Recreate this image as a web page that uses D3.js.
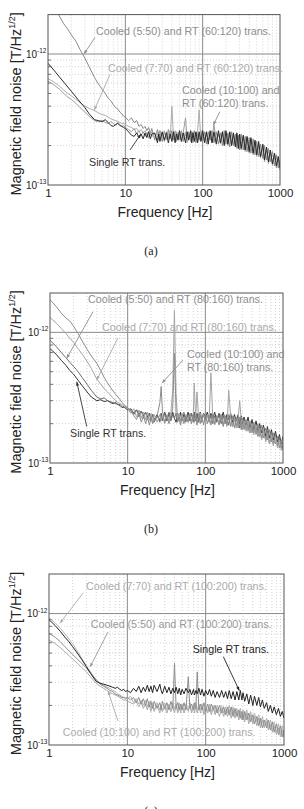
<!DOCTYPE html>
<html>
<head>
<meta charset="utf-8">
<script src="https://cdn.jsdelivr.net/npm/d3@7"></script>
<style>
body { margin: 0; background: #fff; }
svg { display: block; font-family: "Liberation Sans", Arial, sans-serif; }
</style>
</head>
<body>
<svg id="chart" width="304" height="809"></svg>
<script>
// frequency points [Hz], shared by every spectrum
var freq = [1, 1.2, 1.4, 1.6, 1.8, 2, 2.3, 2.6, 3, 3.4, 4, 4.5, 5, 5.5, 6,
  6.5, 7, 7.5, 8, 8.5, 9, 9.5, 10, 11, 12, 13, 14, 15, 16, 17,
  18, 19, 20, 21, 22, 24, 26, 27, 28, 30, 32, 34, 36, 38, 40,
  42, 44, 46, 48, 50, 53, 56, 60, 63, 66, 70, 72, 75, 78, 82,
  86, 90, 95, 100, 106, 112, 118, 125, 132, 140, 150, 160, 170, 180, 190,
  200, 212, 224, 237, 250, 265, 277, 290, 300, 315, 335, 355, 375, 400, 420,
  450, 475, 500, 530, 560, 600, 630, 670, 710, 750, 800, 850, 900, 950, 1000];

// noise values in units of 1e-13 T/Hz^1/2
// (a)
var a550 = [30, 25, 19.5, 17, 15.5, 14, 12.5, 10.8, 9.3, 8, 6.6, 5.9, 5.4, 5.0, 4.6,
  4.4, 4.1, 3.9, 3.8, 3.6, 3.5, 3.35, 3.3, 3.1, 3.25, 3.0, 3.1, 2.8, 2.9, 2.7,
  2.8, 2.6, 2.75, 2.5, 2.7, 2.2, 2.65, 2.3, 2.6, 2.15, 2.55, 2.25, 2.65, 2.3, 2.6,
  2.2, 2.55, 2.15, 2.5, 2.25, 2.6, 2.15, 2.5, 2.2, 2.55, 2.15, 2.5, 2.25, 2.6, 2.1,
  2.5, 2.2, 2.6, 2.15, 2.55, 2.05, 2.55, 2.2, 2.6, 2.1, 2.55, 2.05, 2.5, 2.0, 2.6,
  2.05, 2.5, 1.95, 2.55, 2.0, 2.45, 1.9, 2.4, 1.85, 2.45, 1.85, 2.35, 1.8, 2.3, 1.75,
  2.25, 1.7, 2.15, 1.65, 2.05, 1.6, 2.0, 1.55, 1.9, 1.5, 1.8, 1.4, 1.7, 1.35, 1.55];
var a770 = [6.5, 6.1, 5.7, 5.3, 5.0, 4.8, 4.5, 4.25, 4.0, 3.85, 3.7, 3.55, 3.45, 3.4, 3.3,
  3.2, 3.15, 3.1, 3.05, 3.0, 2.95, 2.95, 2.9, 2.8, 2.75, 2.65, 2.7, 2.55, 2.65, 2.5,
  2.6, 2.45, 2.55, 2.4, 2.55, 2.3, 2.55, 2.2, 2.6, 2.3, 2.6, 2.2, 2.5, 2.25, 4.0,
  2.3, 2.6, 2.2, 2.5, 2.2, 2.45, 2.25, 2.55, 2.1, 2.45, 2.3, 2.55, 2.1, 2.45, 2.3,
  2.55, 3.75, 2.2, 2.5, 2.2, 2.5, 2.15, 2.55, 2.1, 2.45, 2.15, 2.5, 2.05, 2.55, 2.1,
  2.45, 2.0, 2.5, 2.05, 2.4, 2.0, 2.4, 1.95, 2.35, 1.85, 2.3, 1.8, 2.25, 1.75, 2.2,
  1.7, 2.1, 1.65, 2.0, 1.6, 1.95, 1.5, 1.85, 1.45, 1.75, 1.4, 1.65, 1.35, 1.55, 1.3];
var a10100 = [6.2, 5.8, 5.4, 5.0, 4.7, 4.5, 4.2, 3.9, 3.6, 3.35, 3.1, 3.05, 3.1, 3.0, 2.95,
  3.05, 2.95, 2.85, 3.0, 2.9, 2.8, 2.85, 2.75, 2.65, 2.55, 2.7, 2.45, 2.6, 2.4, 2.55,
  2.35, 2.5, 2.3, 2.5, 2.35, 2.45, 2.2, 2.55, 2.25, 2.5, 2.15, 2.55, 2.25, 2.6, 2.3,
  2.5, 2.2, 2.55, 2.25, 2.45, 2.2, 2.5, 3.25, 2.25, 2.5, 2.2, 2.4, 2.55, 2.2, 2.5,
  2.15, 2.45, 2.2, 2.55, 2.15, 2.5, 2.2, 2.45, 2.25, 2.9, 2.2, 2.45, 2.1, 2.5, 2.15,
  2.5, 2.1, 2.45, 2.05, 2.45, 2.0, 2.45, 1.95, 2.4, 1.95, 2.35, 1.85, 2.3, 1.8, 2.25,
  1.75, 2.15, 1.7, 2.05, 1.65, 2.0, 1.6, 1.9, 1.5, 1.8, 1.45, 1.7, 1.35, 1.6, 1.3];
var aSingle = [8.5, 7.5, 6.7, 6.1, 5.6, 5.2, 4.7, 4.3, 3.9, 3.5, 3.15, 3.1, 3.05, 3.15, 3.0,
  2.85, 2.8, 2.9, 2.95, 2.85, 2.8, 2.75, 2.7, 2.55, 2.4, 2.35, 2.5, 2.3, 2.45, 2.25,
  2.5, 2.3, 2.55, 2.25, 2.45, 2.5, 2.1, 2.45, 2.15, 2.55, 2.2, 2.5, 2.1, 2.45, 2.15,
  2.55, 2.1, 2.45, 2.2, 2.6, 2.15, 2.5, 2.1, 2.55, 2.2, 2.6, 2.1, 2.5, 2.15, 2.55,
  2.1, 2.55, 2.15, 2.6, 2.1, 2.55, 2.05, 2.6, 2.1, 2.55, 2.05, 2.6, 2.1, 2.55, 2.0,
  2.6, 2.05, 2.55, 2.0, 2.5, 1.95, 2.5, 1.9, 2.45, 1.9, 2.4, 1.85, 2.35, 1.8, 2.3,
  1.75, 2.2, 1.7, 2.15, 1.65, 2.05, 1.55, 1.95, 1.5, 1.85, 1.45, 1.75, 1.4, 1.65, 1.35];
// (b)
var b10100 = [17.8, 15.8, 14.0, 12.9, 12.2, 11.2, 9.8, 8.6, 7.4, 6.6, 5.8, 5.1, 4.5, 4.1, 3.8,
  3.55, 3.35, 3.2, 3.05, 2.9, 2.8, 2.7, 2.65, 2.5, 2.3, 2.15, 2.4, 2.05, 2.3, 2.0,
  2.25, 1.95, 2.2, 2.0, 2.15, 2.3, 2.9, 3.85, 2.5, 2.05, 2.3, 2.0, 2.25, 2.6, 6.9,
  2.4, 2.05, 2.2, 1.95, 2.25, 2.0, 2.3, 2.05, 2.35, 2.0, 2.35, 2.05, 2.3, 1.95, 2.35,
  2.0, 2.3, 1.95, 2.35, 2.0, 2.3, 1.95, 2.35, 2.0, 2.3, 1.95, 2.35, 1.9, 2.3, 1.95,
  2.35, 1.9, 2.3, 1.85, 2.25, 1.85, 2.25, 1.8, 2.2, 1.8, 2.15, 1.75, 2.1, 1.7, 2.05,
  1.65, 2.0, 1.6, 1.95, 1.55, 1.85, 1.5, 1.8, 1.45, 1.7, 1.4, 1.6, 1.3, 1.5, 1.25];
var b770 = [13, 11.8, 10.7, 9.8, 9.0, 8.4, 7.5, 6.8, 6.0, 5.3, 4.4, 4.0, 3.7, 3.5, 3.3,
  3.15, 3.0, 2.9, 2.85, 2.8, 2.75, 2.7, 2.6, 2.4, 2.6, 2.25, 2.55, 2.2, 2.45, 2.15,
  2.45, 2.1, 2.4, 2.05, 2.35, 2.05, 2.35, 2.1, 2.3, 2.0, 2.35, 2.1, 2.45, 3.6, 14.7,
  3.4, 2.15, 2.4, 2.05, 2.35, 2.1, 2.35, 2.15, 2.4, 2.1, 2.35, 4.1, 2.15, 3.5, 2.2,
  2.4, 2.1, 2.35, 2.05, 2.35, 2.1, 4.9, 2.15, 1.95, 2.3, 2.0, 2.35, 1.95, 2.3, 1.9,
  3.6, 2.25, 1.9, 2.25, 1.85, 2.2, 3.0, 2.15, 1.8, 2.1, 1.75, 2.1, 1.7, 2.0, 1.65,
  1.95, 1.6, 1.85, 1.5, 1.8, 1.45, 1.7, 1.4, 1.65, 1.35, 1.6, 1.3, 1.5, 1.25, 1.4];
var b550 = [8.7, 7.8, 7.0, 6.4, 5.9, 5.5, 5.0, 4.5, 4.0, 3.6, 3.2, 3.1, 3.15, 3.0, 2.95,
  2.9, 2.85, 2.8, 2.8, 2.7, 2.65, 2.7, 2.6, 2.5, 2.35, 2.55, 2.25, 2.5, 2.2, 2.45,
  2.15, 2.4, 2.1, 2.35, 2.05, 2.3, 2.05, 2.35, 2.1, 2.4, 2.15, 2.45, 2.1, 2.35, 2.2,
  2.4, 2.1, 2.35, 2.05, 2.3, 2.45, 2.05, 2.35, 2.1, 2.4, 2.05, 2.4, 2.1, 2.35, 2.05,
  2.35, 2.05, 2.4, 2.1, 2.35, 2.05, 2.35, 2.0, 2.3, 2.05, 2.35, 2.0, 2.3, 2.0, 2.25,
  1.95, 2.3, 1.9, 2.2, 1.9, 2.2, 1.85, 2.1, 1.8, 2.15, 1.8, 2.05, 1.7, 2.0, 1.7,
  1.95, 1.6, 1.9, 1.55, 1.8, 1.5, 1.75, 1.4, 1.7, 1.4, 1.65, 1.35, 1.55, 1.3, 1.45];
var bSingle = [7.5, 6.8, 6.1, 5.6, 5.1, 4.8, 4.3, 3.9, 3.5, 3.2, 3.0, 3.05, 2.95, 3.0, 2.9,
  2.85, 2.9, 2.8, 2.75, 2.65, 2.7, 2.6, 2.55, 2.6, 2.4, 2.55, 2.35, 2.5, 2.3, 2.45,
  2.25, 2.4, 2.2, 2.35, 2.15, 2.35, 2.1, 2.4, 2.15, 2.45, 2.1, 2.4, 2.15, 2.45, 2.2,
  2.05, 2.4, 2.15, 2.45, 2.1, 2.35, 2.15, 2.45, 2.1, 2.4, 2.2, 2.45, 2.1, 2.4, 2.15,
  2.45, 2.15, 2.4, 2.2, 2.45, 2.15, 2.4, 2.2, 2.45, 2.1, 2.4, 2.15, 2.45, 2.1, 2.35,
  2.15, 2.4, 2.05, 2.35, 2.1, 2.35, 2.0, 2.3, 2.0, 2.25, 1.95, 2.25, 1.85, 2.15, 1.8,
  2.1, 1.75, 2.0, 1.7, 1.95, 1.6, 1.9, 1.55, 1.8, 1.5, 1.75, 1.45, 1.65, 1.4, 1.6];
// (c)
var c770 = [9.3, 8.5, 7.7, 7.0, 6.4, 5.9, 5.2, 4.6, 4.0, 3.6, 3.1, 2.95, 2.85, 2.75, 2.7,
  2.6, 2.55, 2.45, 2.4, 2.35, 2.3, 2.3, 2.25, 2.35, 2.1, 2.25, 2.05, 2.2, 2.0, 2.2,
  1.95, 2.15, 1.9, 2.1, 1.85, 2.1, 1.85, 2.05, 1.8, 2.1, 1.85, 2.05, 1.8, 2.1, 1.85,
  2.05, 1.8, 2.1, 1.85, 2.05, 1.8, 2.05, 1.85, 2.1, 1.8, 2.05, 1.85, 2.1, 1.8, 2.05,
  1.85, 2.05, 1.8, 2.0, 1.8, 2.05, 1.8, 2.0, 1.75, 2.0, 1.8, 2.0, 1.75, 1.95, 1.75,
  2.0, 1.7, 1.95, 1.7, 1.9, 1.65, 1.9, 1.6, 1.85, 1.6, 1.85, 1.55, 1.8, 1.5, 1.75,
  1.5, 1.7, 1.45, 1.65, 1.4, 1.6, 1.35, 1.55, 1.3, 1.5, 1.25, 1.45, 1.2, 1.4, 1.2];
var c550 = [7.1, 6.6, 6.1, 5.6, 5.2, 4.9, 4.5, 4.2, 3.85, 3.5, 3.15, 2.9, 2.8, 2.7, 2.6,
  2.55, 2.45, 2.4, 2.35, 2.3, 2.3, 2.25, 2.3, 2.2, 2.3, 2.1, 2.3, 2.05, 2.25, 2.0,
  2.25, 1.95, 2.15, 1.9, 2.15, 1.9, 2.1, 1.85, 2.15, 1.9, 2.1, 1.85, 2.15, 1.9, 4.2,
  1.9, 2.1, 1.85, 2.05, 1.85, 2.1, 1.85, 3.3, 1.9, 2.05, 1.85, 2.1, 1.9, 3.6, 1.85,
  2.05, 1.85, 2.1, 1.8, 2.05, 1.8, 2.05, 1.85, 2.0, 1.75, 2.0, 1.75, 1.95, 1.7, 1.95,
  1.7, 1.95, 1.65, 1.9, 1.65, 1.85, 1.6, 1.8, 1.55, 1.8, 1.55, 1.75, 1.5, 1.7, 1.45,
  1.65, 1.4, 1.6, 1.35, 1.55, 1.35, 1.55, 1.3, 1.5, 1.25, 1.45, 1.2, 1.4, 1.15, 1.3];
var c10100 = [6.3, 5.9, 5.5, 5.1, 4.8, 4.5, 4.2, 3.9, 3.6, 3.3, 2.95, 2.8, 2.7, 2.6, 2.5,
  2.45, 2.4, 2.35, 2.3, 2.25, 2.2, 2.2, 2.15, 2.1, 2.05, 2.15, 1.95, 2.1, 1.9, 2.05,
  1.85, 2.05, 1.8, 2.0, 1.8, 2.0, 1.75, 2.0, 1.8, 1.95, 1.75, 2.0, 1.8, 1.95, 1.75,
  2.0, 1.75, 1.95, 1.75, 2.0, 1.75, 1.95, 1.8, 2.0, 1.75, 1.95, 1.75, 2.0, 1.75, 1.95,
  1.75, 1.95, 1.7, 1.95, 1.75, 1.95, 1.7, 1.9, 1.7, 1.9, 1.65, 1.9, 1.65, 1.85, 1.65,
  1.85, 1.6, 1.85, 1.6, 1.8, 1.55, 1.8, 1.55, 1.75, 1.5, 1.75, 1.45, 1.7, 1.45, 1.65,
  1.4, 1.6, 1.35, 1.55, 1.35, 1.5, 1.3, 1.45, 1.25, 1.4, 1.2, 1.35, 1.15, 1.3, 1.15];
var cSingle = [9.0, 8.1, 7.3, 6.6, 6.1, 5.6, 5.0, 4.5, 3.95, 3.5, 3.05, 2.95, 2.9, 2.85, 2.8,
  2.75, 2.7, 2.75, 2.65, 2.6, 2.65, 2.55, 2.6, 2.5, 2.7, 2.55, 2.8, 2.5, 2.75, 2.55,
  2.85, 2.55, 2.8, 2.5, 2.85, 2.55, 2.9, 2.6, 2.45, 2.8, 2.5, 2.75, 2.45, 2.7, 2.5,
  2.75, 2.45, 2.7, 2.4, 2.65, 2.45, 2.7, 2.5, 2.65, 2.4, 2.65, 2.4, 2.6, 2.45, 2.7,
  2.4, 2.65, 2.35, 2.6, 2.4, 2.65, 2.35, 2.6, 2.3, 2.55, 2.3, 2.6, 2.3, 2.55, 2.25,
  2.6, 2.25, 2.55, 2.2, 2.55, 2.2, 2.6, 2.2, 2.5, 2.15, 2.45, 2.05, 2.4, 2.0, 2.35,
  2.0, 2.3, 1.95, 2.2, 1.9, 2.1, 1.8, 2.0, 1.75, 1.95, 1.7, 1.9, 1.65, 1.8, 1.6];

var xTickValues = [1, 10, 100, 1000];
var yTickValues = [1, 10];
var yTickExps = ["-13", "-12"];
var panelTags = ["(a)", "(b)", "(c)"];

var svg = d3.select("#chart");

var panels = [
  { top: 14.6, bottom: 185, left: 48, right: 280,
    series: [[a550, "#8a8a8a"], [a770, "#acacac"], [a10100, "#9c9c9c"], [aSingle, "#2a2a2a"]],
    notes: [
      { lines: ["Cooled (5:50) and RT (60:120) trans."], at: [4.18, 14.0], from: [4.06, 13.4], to: [2.92, 10], color: "#8e8e8e" },
      { lines: ["Cooled (7:70) and RT (60:120) trans."], at: [5.98, 7.33], from: [6.33, 7.0], to: [3.97, 3.73], color: "#ababab" },
      { lines: ["Cooled (10:100) and", "RT (60:120) trans."], at: [54.1, 4.95], from: [167, 3.63], to: [137, 2.87], color: "#8e8e8e" },
      { lines: ["Single RT trans."], at: [3.39, 1.40], from: [11.5, 1.85], to: [15.9, 2.45], color: "#333" }
    ] },
  { top: 293, bottom: 463, left: 50, right: 283,
    series: [[bSingle, "#333"], [b550, "#6e6e6e"], [b770, "#a5a5a5"], [b10100, "#8c8c8c"]],
    notes: [
      { lines: ["Cooled (5:50) and RT (80:160) trans."], at: [3.09, 16.8], from: [3.58, 14.4], to: [1.64, 6.32], color: "#8e8e8e" },
      { lines: ["Cooled (7:70) and RT (80:160) trans."], at: [4.67, 10.3], from: [7.5, 9.05], to: [4.0, 4.32], color: "#ababab" },
      { lines: ["Cooled (10:100) and", "RT (80:160) trans."], at: [58, 6.32], from: [51.5, 6.13], to: [27.7, 4.09], color: "#8e8e8e" },
      { lines: ["Single RT trans."], at: [1.81, 1.59], from: [2.97, 1.90], to: [2.21, 4.19], color: "#333" }
    ] },
  { top: 574, bottom: 745, left: 49, right: 284,
    series: [[c10100, "#aaaaaa"], [c770, "#b4b4b4"], [c550, "#8e8e8e"], [cSingle, "#222"]],
    notes: [
      { lines: ["Cooled (7:70) and RT (100:200) trans."], at: [2.97, 15.1], from: [2.74, 14.4], to: [1.38, 8.43], color: "#ababab" },
      { lines: ["Cooled (5:50) and RT (100:200) trans."], at: [3.41, 7.73], from: [5.66, 7.24], to: [3.34, 3.92], color: "#999" },
      { lines: ["Single RT trans."], at: [68.4, 4.99], from: [168, 4.7], to: [269, 2.59], color: "#222" },
      { lines: ["Cooled (10:100) and RT (100:200) trans."], at: [1.5, 1.17], from: [7.6, 1.52], to: [5.66, 2.58], color: "#ababab" }
    ] }
];

var minorX = [];
[1, 10, 100].forEach(function(d) { for (var k = 2; k < 10; k++) minorX.push(d * k); });
var minorY = [2, 3, 4, 5, 6, 7, 8, 9];

panels.forEach(function(p, i) {
  var x = d3.scaleLog().domain([1, 1000]).range([p.left, p.right]);
  var y = d3.scaleLog().domain([1, 20]).range([p.bottom, p.top]);
  var g = svg.append("g");

  g.append("clipPath").attr("id", "clip" + i).append("rect")
    .attr("x", p.left).attr("y", p.top)
    .attr("width", p.right - p.left).attr("height", p.bottom - p.top);

  // minor grid, dotted
  g.selectAll(".mx").data(minorX).enter().append("line")
    .attr("x1", function(d) { return x(d); }).attr("x2", function(d) { return x(d); })
    .attr("y1", p.top).attr("y2", p.bottom)
    .attr("stroke", "#c8c8c8").attr("stroke-width", 0.8).attr("stroke-dasharray", "1,2");
  g.selectAll(".my").data(minorY).enter().append("line")
    .attr("y1", function(d) { return y(d); }).attr("y2", function(d) { return y(d); })
    .attr("x1", p.left).attr("x2", p.right)
    .attr("stroke", "#c8c8c8").attr("stroke-width", 0.8).attr("stroke-dasharray", "1,2");
  // small inner ticks on left axis
  g.selectAll(".ty").data(minorY).enter().append("line")
    .attr("y1", function(d) { return y(d); }).attr("y2", function(d) { return y(d); })
    .attr("x1", p.left).attr("x2", p.left + 3)
    .attr("stroke", "#555").attr("stroke-width", 0.8);

  // major grid
  g.selectAll(".Mx").data([10, 100]).enter().append("line")
    .attr("x1", function(d) { return x(d); }).attr("x2", function(d) { return x(d); })
    .attr("y1", p.top).attr("y2", p.bottom)
    .attr("stroke", "#8a8a8a").attr("stroke-width", 1);
  g.append("line")
    .attr("x1", p.left).attr("x2", p.right)
    .attr("y1", y(10)).attr("y2", y(10))
    .attr("stroke", "#8a8a8a").attr("stroke-width", 1);

  // spectra
  var line = d3.line()
    .x(function(d, j) { return x(freq[j]); })
    .y(function(d) { return y(d); });
  var lines = g.append("g").attr("clip-path", "url(#clip" + i + ")");
  p.series.forEach(function(s) {
    lines.append("path").datum(s[0])
      .attr("d", line)
      .attr("fill", "none")
      .attr("stroke", s[1])
      .attr("stroke-width", 1)
      .attr("stroke-linejoin", "round");
  });

  // frame
  g.append("rect")
    .attr("x", p.left).attr("y", p.top)
    .attr("width", p.right - p.left).attr("height", p.bottom - p.top)
    .attr("fill", "none").attr("stroke", "#555").attr("stroke-width", 1);

  // x axis labels
  var ax = g.append("g").attr("transform", "translate(0," + p.bottom + ")")
    .call(d3.axisBottom(x).tickValues(xTickValues).tickSize(0).tickPadding(4)
      .tickFormat(d3.format("d")));
  ax.select(".domain").remove();
  ax.selectAll("text").attr("font-size", 11.5).attr("fill", "#222")
    .attr("font-family", "Liberation Sans, Arial, sans-serif");

  // y tick labels with exponent
  yTickValues.forEach(function(v, k) {
    var t = g.append("text")
      .attr("x", p.left - 1.5).attr("y", y(v) + 3.5)
      .attr("text-anchor", "end").attr("fill", "#222").attr("font-size", 10);
    t.append("tspan").text("10");
    t.append("tspan").attr("dy", -4.5).attr("font-size", 6.5).text(yTickExps[k]);
  });

  // axis titles
  g.append("text")
    .attr("x", (p.left + p.right) / 2 + 1).attr("y", p.bottom + 32)
    .attr("text-anchor", "middle").attr("font-size", 14).attr("fill", "#222")
    .text("Frequency [Hz]");
  var yl = g.append("text")
    .attr("transform", "translate(20.5," + ((p.top + p.bottom) / 2 + 4) + ") rotate(-90)")
    .attr("text-anchor", "middle").attr("font-size", 14.5).attr("fill", "#222");
  yl.append("tspan").text("Magnetic field noise [T/Hz");
  yl.append("tspan").attr("dy", -6).attr("font-size", 9).text("1/2");
  yl.append("tspan").attr("dy", 6).text("]");

  // panel tag
  g.append("text")
    .attr("x", 151).attr("y", p.bottom + 70)
    .attr("text-anchor", "middle").attr("font-size", 12)
    .attr("font-family", "Liberation Serif, Times New Roman, serif").attr("fill", "#222")
    .text(panelTags[i]);

  // annotations
  p.notes.forEach(function(n) {
    var x1 = x(n.from[0]), y1 = y(n.from[1]), x2 = x(n.to[0]), y2 = y(n.to[1]);
    g.append("line")
      .attr("x1", x1).attr("y1", y1).attr("x2", x2).attr("y2", y2)
      .attr("stroke", n.color).attr("stroke-width", 0.9);
    var ang = Math.atan2(y2 - y1, x2 - x1);
    var L = 4, W = 1.6;
    var bx = x2 - L * Math.cos(ang), by = y2 - L * Math.sin(ang);
    g.append("path")
      .attr("d", "M" + x2 + "," + y2 +
        "L" + (bx - W * Math.sin(ang)) + "," + (by + W * Math.cos(ang)) +
        "L" + (bx + W * Math.sin(ang)) + "," + (by - W * Math.cos(ang)) + "Z")
      .attr("fill", n.color);
    var tx = x(n.at[0]), ty = y(n.at[1]);
    n.lines.forEach(function(s, k) {
      g.append("text")
        .attr("x", tx).attr("y", ty + k * 12.5)
        .attr("font-size", 10.7).attr("fill", n.color)
        .text(s);
    });
  });
});
</script>
</body>
</html>
